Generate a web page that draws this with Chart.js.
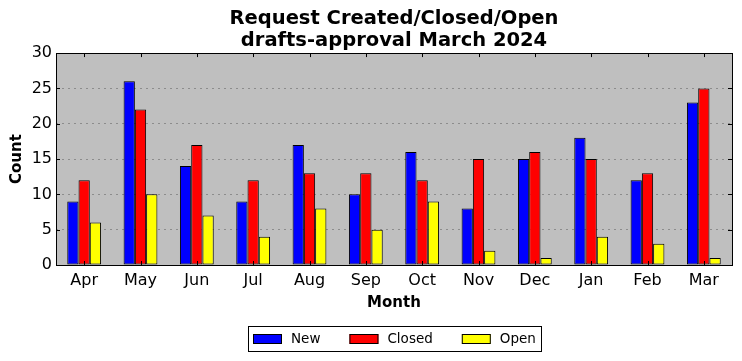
<!DOCTYPE html>
<html>
<head>
<meta charset="utf-8">
<script src="https://cdn.jsdelivr.net/npm/chart.js@4.4.1/dist/chart.umd.min.js"></script>
<style>
  html, body { margin: 0; padding: 0; background: #fff; }
  #wrap { width: 742px; height: 361px; }
</style>
</head>
<body>
<div id="wrap"><canvas id="chart" width="742" height="361"></canvas></div>
<script>
// data
const months = ['Apr', 'May', 'Jun', 'Jul', 'Aug', 'Sep', 'Oct', 'Nov', 'Dec', 'Jan', 'Feb', 'Mar'];
const newCounts = [9, 26, 14, 9, 17, 10, 16, 8, 15, 18, 12, 23];
const closedCounts = [12, 22, 17, 12, 13, 13, 12, 15, 16, 15, 13, 25];
const openCounts = [6, 10, 7, 4, 8, 5, 9, 2, 1, 4, 3, 1];
const yTicks = [0, 5, 10, 15, 20, 25, 30];

const FONT = "'DejaVu Sans', sans-serif";

// grey plot background
const plotBg = {
    id: 'plotBg',
    beforeDraw(chart) {
        const a = chart.chartArea, c = chart.ctx;
        c.save();
        c.fillStyle = '#bfbfbf';
        c.fillRect(a.left, a.top, a.right - a.left, a.bottom - a.top);
        c.restore();
    }
};

// matplotlib-style inward ticks + frame, and a boxed legend under the axis
const frame = {
    id: 'frame',
    afterDraw(chart) {
        const a = chart.chartArea, c = chart.ctx;
        const x = chart.scales.x, y = chart.scales.y;
        c.save();
        c.strokeStyle = '#000';
        c.lineWidth = 1;
        c.beginPath();
        yTicks.forEach(v => {
            const py = Math.round(y.getPixelForValue(v)) + 0.5;
            c.moveTo(a.left, py); c.lineTo(a.left + 4, py);
            c.moveTo(a.right, py); c.lineTo(a.right - 4, py);
        });
        months.forEach((m, i) => {
            const px = Math.round(x.getPixelForValue(i)) + 0.5;
            c.moveTo(px, a.bottom); c.lineTo(px, a.bottom - 4);
            c.moveTo(px, a.top); c.lineTo(px, a.top + 4);
        });
        c.stroke();
        c.strokeRect(Math.round(a.left) + 0.5, Math.round(a.top) + 0.5,
            Math.round(a.right - a.left), Math.round(a.bottom - a.top));

        // legend
        c.font = '13.5px ' + FONT;
        const sets = chart.data.datasets;
        const boxW = 29, boxH = 10, gap = 9, itemGap = 29, margin = 5;
        const widths = sets.map(d => c.measureText(d.label).width);
        let total = margin * 2 + sets.length * (boxW + gap) + widths.reduce((s, w) => s + w, 0) + itemGap * (sets.length - 1);
        const cx = (a.left + a.right) / 2;
        const left = Math.round(cx - total / 2), top = 326, h = 25;
        c.fillStyle = '#fff';
        c.fillRect(left, top, total, h);
        c.strokeRect(left + 0.5, top + 0.5, Math.round(total), h);
        let px = left + margin;
        const mid = top + h / 2 + 0.5;
        c.textBaseline = 'middle';
        sets.forEach((d, i) => {
            c.fillStyle = d.backgroundColor;
            c.fillRect(px, Math.round(mid - boxH / 2), boxW, boxH);
            c.strokeRect(px + 0.5, Math.round(mid - boxH / 2) + 0.5, boxW - 1, boxH - 1);
            px += boxW + gap;
            c.fillStyle = '#000';
            c.fillText(d.label, px, mid);
            px += widths[i] + itemGap;
        });
        c.restore();
    }
};

const barStyle = { borderColor: '#000', borderWidth: 1, borderSkipped: false, barPercentage: 1.0, categoryPercentage: 0.6 };

new Chart(document.getElementById('chart'), {
    type: 'bar',
    data: {
        labels: months,
        datasets: [
            { label: 'New', data: newCounts, backgroundColor: '#0000ff', ...barStyle },
            { label: 'Closed', data: closedCounts, backgroundColor: '#ff0000', ...barStyle },
            { label: 'Open', data: openCounts, backgroundColor: '#ffff00', ...barStyle }
        ]
    },
    options: {
        responsive: false,
        animation: false,
        layout: { padding: { left: 8, right: 10, top: 0, bottom: 49 } },
        plugins: {
            title: {
                display: true,
                fullSize: false,
                text: ['Request Created/Closed/Open', 'drafts-approval March 2024'],
                color: '#000',
                font: { family: FONT, size: 19.5, weight: 'bold', lineHeight: 1.13 },
                padding: { top: 8, bottom: 1 }
            },
            legend: { display: false },
            tooltip: { enabled: false }
        },
        scales: {
            x: {
                grid: { display: false, drawTicks: false },
                border: { display: false },
                ticks: { color: '#000', font: { family: FONT, size: 16 }, padding: 6, maxRotation: 0 },
                title: { display: true, text: 'Month', color: '#000', font: { family: FONT, size: 15, weight: 'bold' }, padding: { top: 2, bottom: 0 } },
                afterFit(scale) { scale.height = 47; }
            },
            y: {
                min: 0,
                max: 30,
                ticks: { stepSize: 5, color: '#000', font: { family: FONT, size: 16 }, padding: 4 },
                grid: { color: '#8c8c8c', lineWidth: 1, drawTicks: false },
                border: { display: false, dash: [2, 4] },
                title: { display: true, text: 'Count', color: '#000', font: { family: FONT, size: 15, weight: 'bold' }, padding: { top: 0, bottom: 4 } },
                afterFit(scale) { scale.width = 48; }
            }
        }
    },
    plugins: [plotBg, frame]
});
</script>
</body>
</html>
